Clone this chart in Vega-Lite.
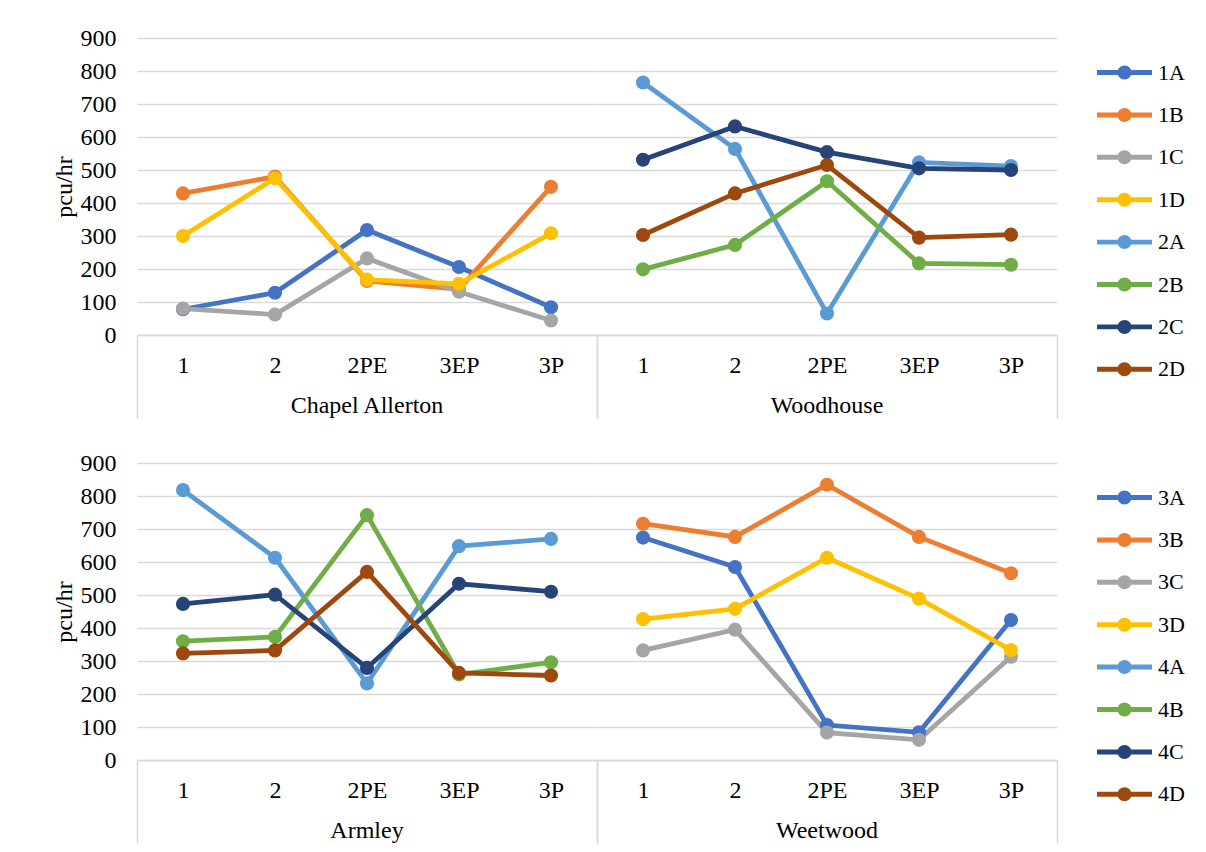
{
  "$schema": "https://vega.github.io/schema/vega-lite/v6.json",
  "background": "white",
  "padding": {"left": 52, "top": 26, "right": 5, "bottom": 5},
  "datasets": {
    "top": [
      {"loc": "Chapel Allerton", "period": "1", "series": "1A", "value": 78},
      {"loc": "Chapel Allerton", "period": "2", "series": "1A", "value": 128},
      {"loc": "Chapel Allerton", "period": "2PE", "series": "1A", "value": 318},
      {"loc": "Chapel Allerton", "period": "3EP", "series": "1A", "value": 206},
      {"loc": "Chapel Allerton", "period": "3P", "series": "1A", "value": 84},
      {"loc": "Chapel Allerton", "period": "1", "series": "1B", "value": 429},
      {"loc": "Chapel Allerton", "period": "2", "series": "1B", "value": 480},
      {"loc": "Chapel Allerton", "period": "2PE", "series": "1B", "value": 164},
      {"loc": "Chapel Allerton", "period": "3EP", "series": "1B", "value": 139},
      {"loc": "Chapel Allerton", "period": "3P", "series": "1B", "value": 449},
      {"loc": "Chapel Allerton", "period": "1", "series": "1C", "value": 80},
      {"loc": "Chapel Allerton", "period": "2", "series": "1C", "value": 62},
      {"loc": "Chapel Allerton", "period": "2PE", "series": "1C", "value": 232},
      {"loc": "Chapel Allerton", "period": "3EP", "series": "1C", "value": 131},
      {"loc": "Chapel Allerton", "period": "3P", "series": "1C", "value": 44},
      {"loc": "Chapel Allerton", "period": "1", "series": "1D", "value": 300},
      {"loc": "Chapel Allerton", "period": "2", "series": "1D", "value": 475},
      {"loc": "Chapel Allerton", "period": "2PE", "series": "1D", "value": 168},
      {"loc": "Chapel Allerton", "period": "3EP", "series": "1D", "value": 155},
      {"loc": "Chapel Allerton", "period": "3P", "series": "1D", "value": 308},
      {"loc": "Woodhouse", "period": "1", "series": "2A", "value": 765},
      {"loc": "Woodhouse", "period": "2", "series": "2A", "value": 564},
      {"loc": "Woodhouse", "period": "2PE", "series": "2A", "value": 65},
      {"loc": "Woodhouse", "period": "3EP", "series": "2A", "value": 523},
      {"loc": "Woodhouse", "period": "3P", "series": "2A", "value": 512},
      {"loc": "Woodhouse", "period": "1", "series": "2B", "value": 199},
      {"loc": "Woodhouse", "period": "2", "series": "2B", "value": 273},
      {"loc": "Woodhouse", "period": "2PE", "series": "2B", "value": 466},
      {"loc": "Woodhouse", "period": "3EP", "series": "2B", "value": 217},
      {"loc": "Woodhouse", "period": "3P", "series": "2B", "value": 213},
      {"loc": "Woodhouse", "period": "1", "series": "2C", "value": 531},
      {"loc": "Woodhouse", "period": "2", "series": "2C", "value": 632},
      {"loc": "Woodhouse", "period": "2PE", "series": "2C", "value": 554},
      {"loc": "Woodhouse", "period": "3EP", "series": "2C", "value": 505},
      {"loc": "Woodhouse", "period": "3P", "series": "2C", "value": 500},
      {"loc": "Woodhouse", "period": "1", "series": "2D", "value": 303},
      {"loc": "Woodhouse", "period": "2", "series": "2D", "value": 429},
      {"loc": "Woodhouse", "period": "2PE", "series": "2D", "value": 515},
      {"loc": "Woodhouse", "period": "3EP", "series": "2D", "value": 295},
      {"loc": "Woodhouse", "period": "3P", "series": "2D", "value": 304}
    ],
    "bottom": [
      {"loc": "Weetwood", "period": "1", "series": "3A", "value": 674},
      {"loc": "Weetwood", "period": "2", "series": "3A", "value": 585},
      {"loc": "Weetwood", "period": "2PE", "series": "3A", "value": 106},
      {"loc": "Weetwood", "period": "3EP", "series": "3A", "value": 84},
      {"loc": "Weetwood", "period": "3P", "series": "3A", "value": 424},
      {"loc": "Weetwood", "period": "1", "series": "3B", "value": 716},
      {"loc": "Weetwood", "period": "2", "series": "3B", "value": 676},
      {"loc": "Weetwood", "period": "2PE", "series": "3B", "value": 834},
      {"loc": "Weetwood", "period": "3EP", "series": "3B", "value": 676},
      {"loc": "Weetwood", "period": "3P", "series": "3B", "value": 566},
      {"loc": "Weetwood", "period": "1", "series": "3C", "value": 332},
      {"loc": "Weetwood", "period": "2", "series": "3C", "value": 395},
      {"loc": "Weetwood", "period": "2PE", "series": "3C", "value": 83},
      {"loc": "Weetwood", "period": "3EP", "series": "3C", "value": 61},
      {"loc": "Weetwood", "period": "3P", "series": "3C", "value": 313},
      {"loc": "Weetwood", "period": "1", "series": "3D", "value": 427},
      {"loc": "Weetwood", "period": "2", "series": "3D", "value": 458},
      {"loc": "Weetwood", "period": "2PE", "series": "3D", "value": 613},
      {"loc": "Weetwood", "period": "3EP", "series": "3D", "value": 489},
      {"loc": "Weetwood", "period": "3P", "series": "3D", "value": 333},
      {"loc": "Armley", "period": "1", "series": "4A", "value": 818},
      {"loc": "Armley", "period": "2", "series": "4A", "value": 613},
      {"loc": "Armley", "period": "2PE", "series": "4A", "value": 232},
      {"loc": "Armley", "period": "3EP", "series": "4A", "value": 648},
      {"loc": "Armley", "period": "3P", "series": "4A", "value": 670},
      {"loc": "Armley", "period": "1", "series": "4B", "value": 360},
      {"loc": "Armley", "period": "2", "series": "4B", "value": 373},
      {"loc": "Armley", "period": "2PE", "series": "4B", "value": 742},
      {"loc": "Armley", "period": "3EP", "series": "4B", "value": 259},
      {"loc": "Armley", "period": "3P", "series": "4B", "value": 296},
      {"loc": "Armley", "period": "1", "series": "4C", "value": 473},
      {"loc": "Armley", "period": "2", "series": "4C", "value": 501},
      {"loc": "Armley", "period": "2PE", "series": "4C", "value": 279},
      {"loc": "Armley", "period": "3EP", "series": "4C", "value": 534},
      {"loc": "Armley", "period": "3P", "series": "4C", "value": 510},
      {"loc": "Armley", "period": "1", "series": "4D", "value": 323},
      {"loc": "Armley", "period": "2", "series": "4D", "value": 332},
      {"loc": "Armley", "period": "2PE", "series": "4D", "value": 570},
      {"loc": "Armley", "period": "3EP", "series": "4D", "value": 264},
      {"loc": "Armley", "period": "3P", "series": "4D", "value": 256}
    ]
  },
  "config": {
    "font": "Liberation Serif",
    "view": {"stroke": null},
    "axis": {"labelFont": "Liberation Serif", "labelFontSize": 24, "labelColor": "#000000", "titleFont": "Liberation Serif", "titleFontSize": 24, "titleFontWeight": "normal", "titleColor": "#000000"},
    "header": {"labelFont": "Liberation Serif", "labelFontSize": 24, "labelColor": "#000000"},
    "legend": {"labelFont": "Liberation Serif", "labelFontSize": 22, "labelColor": "#000000"}
  },
  "spacing": 32,
  "resolve": {"scale": {"color": "independent"}, "legend": {"color": "independent"}},
  "vconcat": [
    {
      "data": {"name": "top"},
      "spacing": 0,
      "facet": {"column": {"field": "loc", "type": "nominal", "sort": ["Chapel Allerton", "Woodhouse"], "title": null, "header": {"labelOrient": "bottom", "labelPadding": -25}}},
      "spec": {
        "width": 460,
        "height": 297,
        "encoding": {
          "x": {"field": "period", "type": "ordinal", "sort": ["1", "2", "2PE", "3EP", "3P"], "scale": {"paddingInner": 0, "paddingOuter": 0},
            "axis": {"title": null, "labelAngle": 0, "tickBand": "extent", "tickSize": 83, "tickColor": "#D9D9D9", "tickWidth": 1.5,
              "tickOpacity": {"condition": {"test": "datum.extra || datum.value == '3P'", "value": 1}, "value": 0},
              "domainColor": "#D9D9D9", "domainWidth": 1.5, "labelPadding": -65}},
          "y": {"field": "value", "type": "quantitative", "scale": {"domain": [0, 900]},
            "axis": {"title": "pcu/hr", "values": [0, 100, 200, 300, 400, 500, 600, 700, 800, 900], "grid": true, "gridColor": "#D9D9D9", "gridWidth": 1.5, "domain": false, "ticks": false, "tickSize": 0, "labelPadding": 21, "titlePadding": 4}},
          "color": {"field": "series", "type": "nominal",
            "scale": {"domain": ["1A", "1B", "1C", "1D", "2A", "2B", "2C", "2D"], "range": ["#4472C4", "#ED7D31", "#A5A5A5", "#FFC000", "#5B9BD5", "#70AD47", "#264478", "#9E480E"]},
            "legend": {"title": null, "orient": "right", "offset": 32, "padding": 7, "rowPadding": 3.4, "labelOffset": 6, "symbolSize": 3025, "symbolStrokeWidth": 0, "symbolOpacity": 1,
              "symbolType": "M-1,-0.09L1,-0.09L1,0.09L-1,0.09Z M0.255,0A0.255,0.255 0 1,1 -0.255,0A0.255,0.255 0 1,1 0.255,0Z"}}
        },
        "layer": [
          {"mark": {"type": "line", "strokeWidth": 4.8}},
          {"mark": {"type": "point", "filled": true, "size": 200, "opacity": 1}}
        ]
      }
    },
    {
      "data": {"name": "bottom"},
      "spacing": 0,
      "facet": {"column": {"field": "loc", "type": "nominal", "sort": ["Armley", "Weetwood"], "title": null, "header": {"labelOrient": "bottom", "labelPadding": -25}}},
      "spec": {
        "width": 460,
        "height": 297,
        "encoding": {
          "x": {"field": "period", "type": "ordinal", "sort": ["1", "2", "2PE", "3EP", "3P"], "scale": {"paddingInner": 0, "paddingOuter": 0},
            "axis": {"title": null, "labelAngle": 0, "tickBand": "extent", "tickSize": 83, "tickColor": "#D9D9D9", "tickWidth": 1.5,
              "tickOpacity": {"condition": {"test": "datum.extra || datum.value == '3P'", "value": 1}, "value": 0},
              "domainColor": "#D9D9D9", "domainWidth": 1.5, "labelPadding": -65}},
          "y": {"field": "value", "type": "quantitative", "scale": {"domain": [0, 900]},
            "axis": {"title": "pcu/hr", "values": [0, 100, 200, 300, 400, 500, 600, 700, 800, 900], "grid": true, "gridColor": "#D9D9D9", "gridWidth": 1.5, "domain": false, "ticks": false, "tickSize": 0, "labelPadding": 21, "titlePadding": 4}},
          "color": {"field": "series", "type": "nominal",
            "scale": {"domain": ["3A", "3B", "3C", "3D", "4A", "4B", "4C", "4D"], "range": ["#4472C4", "#ED7D31", "#A5A5A5", "#FFC000", "#5B9BD5", "#70AD47", "#264478", "#9E480E"]},
            "legend": {"title": null, "orient": "right", "offset": 32, "padding": 7, "rowPadding": 3.4, "labelOffset": 6, "symbolSize": 3025, "symbolStrokeWidth": 0, "symbolOpacity": 1,
              "symbolType": "M-1,-0.09L1,-0.09L1,0.09L-1,0.09Z M0.255,0A0.255,0.255 0 1,1 -0.255,0A0.255,0.255 0 1,1 0.255,0Z"}}
        },
        "layer": [
          {"mark": {"type": "line", "strokeWidth": 4.8}},
          {"mark": {"type": "point", "filled": true, "size": 200, "opacity": 1}}
        ]
      }
    }
  ]
}
